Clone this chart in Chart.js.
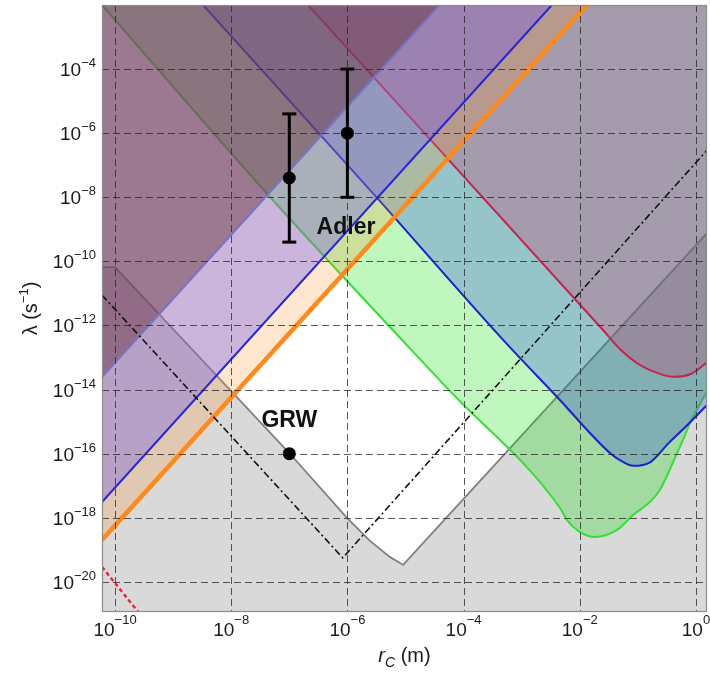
<!DOCTYPE html>
<html>
<head>
<meta charset="utf-8">
<script src="https://cdn.jsdelivr.net/npm/chart.js@4.4.1/dist/chart.umd.min.js"></script>
<style>
  html, body { margin: 0; padding: 0; background: #fff; }
</style>
</head>
<body>
<canvas id="chart" width="710" height="675"></canvas>
<script>
// axis range (r_C in m, lambda in 1/s)
const xRange = [5.97e-11, 1.55];
const yRange = [1.15e-21, 1.0e-2];
const xTicks = [1e-10, 1e-8, 1e-6, 1e-4, 1e-2, 1];
const xTickExp = ['−10', '−8', '−6', '−4', '−2', '0'];
const yTicks = [1e-4, 1e-6, 1e-8, 1e-10, 1e-12, 1e-14, 1e-16, 1e-18, 1e-20];
const yTickExp = ['−4', '−6', '−8', '−10', '−12', '−14', '−16', '−18', '−20'];

// upper bounds (excluded above the curve)
const greenBound = [
  { x: 5.97e-11, y: 1.0e-2 }, { x: 4.66e-8, y: 1.02e-8 }, { x: 5.37e-5, y: 1.05e-14 },
  { x: 4.57e-3, y: 2.04e-18 }, { x: 6.03e-3, y: 8.51e-19 }, { x: 1.0e-2, y: 3.63e-19 },
  { x: 1.82e-2, y: 2.51e-19 }, { x: 4.37e-2, y: 4.17e-19 }, { x: 8.32e-2, y: 1.23e-18 },
  { x: 0.162, y: 3.16e-18 }, { x: 0.240, y: 7.41e-18 }, { x: 0.398, y: 5.13e-17 },
  { x: 0.597, y: 2.69e-16 }, { x: 0.794, y: 9.12e-16 }, { x: 1.55, y: 8.9e-15 }
];
const blueBound = [
  { x: 3.27e-9, y: 1.0e-2 }, { x: 3.24e-6, y: 9.55e-9 }, { x: 4.79e-4, y: 3.55e-13 },
  { x: 4.07e-3, y: 5.89e-15 }, { x: 3.31e-2, y: 1.05e-16 }, { x: 4.9e-2, y: 6.31e-17 },
  { x: 8.32e-2, y: 4.17e-17 }, { x: 0.162, y: 5.37e-17 }, { x: 0.339, y: 2.14e-16 },
  { x: 0.631, y: 6.31e-16 }, { x: 1.55, y: 3.31e-15 }
];
const redBound = [
  { x: 2.1e-7, y: 1.0e-2 }, { x: 2.51e-2, y: 7.24e-13 }, { x: 5.01e-2, y: 1.78e-13 },
  { x: 9.55e-2, y: 6.76e-14 }, { x: 0.162, y: 4.07e-14 }, { x: 0.398, y: 2.51e-14 },
  { x: 0.794, y: 3.02e-14 }, { x: 1.32, y: 5.62e-14 }, { x: 1.55, y: 7.24e-14 }
];
// rising bounds (excluded above-left)
const orangeBound = [{ x: 5.97e-11, y: 2.04e-19 }, { x: 1.33e-2, y: 1.0e-2 }];
const purpleBound = [{ x: 5.97e-11, y: 3.09e-18 }, { x: 3.31e-3, y: 1.0e-2 }];
const maroonBound = [{ x: 5.97e-11, y: 2.45e-14 }, { x: 3.89e-5, y: 1.0e-2 }];
// theoretical lower bound (excluded below)
const grayBound = [
  { x: 5.97e-11, y: 6.61e-11 }, { x: 1.0e-10, y: 6.61e-11 }, { x: 1.0e-7, y: 1.05e-16 },
  { x: 9.84e-7, y: 1.0e-18 }, { x: 2.45e-6, y: 1.91e-19 }, { x: 5.37e-6, y: 6.03e-20 },
  { x: 9.12e-6, y: 3.39e-20 }, { x: 1.55, y: 7.59e-10 }
];
const dashDot = [{ x: 5.97e-11, y: 8.91e-12 }, { x: 8.32e-7, y: 5.62e-20 }, { x: 1.55, y: 2.95e-7 }];
const redDashed = [{ x: 5.97e-11, y: 2.95e-20 }, { x: 2.51e-10, y: 1.15e-21 }];

// proposed values
const grwPoint = [{ x: 1e-7, y: 1e-16 }];
const adlerPoints = [{ x: 1e-7, y: 4e-8 }, { x: 1e-6, y: 1e-6 }];
const adlerLow = [4e-10, 1e-8];
const adlerHigh = [4e-6, 1e-4];
const textLabels = [
  { text: 'GRW', x: 1e-7, y: 1.05e-15 },
  { text: 'Adler', x: 9.46e-7, y: 1.1e-9 }
];

const FONT = '"Liberation Sans", Arial, sans-serif';

function region(data, line, width, fillColor, fill, order, monotone) {
  return {
    data: data,
    showLine: true,
    borderColor: line,
    borderWidth: width,
    backgroundColor: fillColor,
    fill: fill,
    order: order,
    pointRadius: 0,
    tension: 0,
    cubicInterpolationMode: monotone ? 'monotone' : 'default',
    clip: 0
  };
}

const datasets = [
  region(grayBound, '#808080', 1.8, 'rgba(120,120,120,0.28)', 'start', 16),
  region(greenBound, '#35e035', 2, 'rgba(0,225,0,0.25)', 'end', 15, true),
  region(blueBound, '#1f1fcf', 2, 'rgba(50,80,220,0.3)', 'end', 14, true),
  region(redBound, '#c8224f', 2, 'rgba(200,60,110,0.3)', 'end', 13, true),
  region(orangeBound, '#ff8a1c', 4.5, 'rgba(255,140,30,0.22)', 'end', 12),
  region(purpleBound, '#2626d6', 2, 'rgba(105,90,240,0.35)', 'end', 11),
  region(maroonBound, '#7676c4', 2.2, 'rgba(100,45,55,0.45)', 'end', 10)
];

const dd = region(dashDot, '#111', 1.6, 'transparent', false, 5);
dd.borderDash = [7, 3, 2, 3];
datasets.push(dd);
const rd = region(redDashed, '#e8203a', 2.4, 'transparent', false, 4);
rd.borderDash = [4, 3];
datasets.push(rd);

// error bars for Adler
adlerPoints.forEach((p, i) => {
  datasets.push({
    data: [{ x: p.x, y: adlerLow[i] }, { x: p.x, y: adlerHigh[i] }],
    showLine: true,
    borderColor: '#000',
    borderWidth: 3,
    pointStyle: 'line',
    pointRadius: 7,
    pointBorderWidth: 3,
    pointBorderColor: '#000',
    fill: false,
    order: 2,
    clip: 0
  });
});

datasets.push({
  data: adlerPoints.concat(grwPoint),
  showLine: false,
  pointRadius: 6.5,
  pointBackgroundColor: '#000',
  pointBorderWidth: 0,
  order: 1
});

const GRID_BEFORE = datasets.indexOf(dd);

function drawGrid(chart) {
  const { ctx, chartArea: a, scales: { x, y } } = chart;
  ctx.save();
  ctx.strokeStyle = 'rgba(35,35,35,0.75)';
  ctx.lineWidth = 1;
  ctx.setLineDash([7, 4]);
  xTicks.forEach(v => {
    const px = Math.round(x.getPixelForValue(v)) + 0.5;
    ctx.beginPath(); ctx.moveTo(px, a.top); ctx.lineTo(px, a.bottom); ctx.stroke();
  });
  yTicks.forEach(v => {
    const py = Math.round(y.getPixelForValue(v)) + 0.5;
    ctx.beginPath(); ctx.moveTo(a.left, py); ctx.lineTo(a.right, py); ctx.stroke();
  });
  ctx.restore();
}

const overlay = {
  id: 'overlay',
  beforeDatasetDraw(chart, args) {
    if (args.index === GRID_BEFORE) drawGrid(chart);
  },
  afterDraw(chart) {
    const { ctx, chartArea: a, scales: { x, y } } = chart;
    ctx.save();
    // frame
    ctx.strokeStyle = '#8c8c8c';
    ctx.lineWidth = 1.2;
    ctx.strokeRect(a.left + 0.5, a.top + 0.5, a.width - 1, a.height - 1);

    ctx.fillStyle = '#1a1a1a';
    ctx.textBaseline = 'alphabetic';
    // y tick labels
    yTicks.forEach((v, i) => {
      const py = y.getPixelForValue(v);
      ctx.font = '13px ' + FONT;
      const ew = ctx.measureText(yTickExp[i]).width;
      ctx.textAlign = 'right';
      ctx.fillText(yTickExp[i], 96, py - 2);
      ctx.font = '19px ' + FONT;
      ctx.fillText('10', 96 - ew, py + 7);
    });
    // x tick labels
    xTicks.forEach((v, i) => {
      const px = x.getPixelForValue(v);
      ctx.font = '19px ' + FONT;
      const bw = ctx.measureText('10').width;
      ctx.font = '13px ' + FONT;
      const ew = ctx.measureText(xTickExp[i]).width;
      const start = px - (bw + ew) / 2;
      ctx.textAlign = 'left';
      ctx.font = '19px ' + FONT;
      ctx.fillText('10', start, 636);
      ctx.font = '13px ' + FONT;
      ctx.fillText(xTickExp[i], start + bw, 624);
    });

    // x title: r_C (m)
    ctx.textAlign = 'left';
    ctx.font = 'italic 20px ' + FONT;
    const rw = ctx.measureText('r').width;
    ctx.font = 'italic 14px ' + FONT;
    const cw = ctx.measureText('C').width;
    ctx.font = '20px ' + FONT;
    const mw = ctx.measureText(' (m)').width;
    let sx = (a.left + a.right) / 2 - (rw + cw + mw) / 2;
    ctx.font = 'italic 20px ' + FONT;
    ctx.fillText('r', sx, 662);
    ctx.font = 'italic 14px ' + FONT;
    ctx.fillText('C', sx + rw, 667);
    ctx.font = '20px ' + FONT;
    ctx.fillText(' (m)', sx + rw + cw, 662);

    // y title: lambda (s^-1)
    ctx.save();
    ctx.translate(37, (a.top + a.bottom) / 2);
    ctx.rotate(-Math.PI / 2);
    ctx.font = '20px ' + FONT;
    const w1 = ctx.measureText('λ (s').width;
    const w3 = ctx.measureText(')').width;
    ctx.font = '13px ' + FONT;
    const w2 = ctx.measureText('−1').width;
    let tx = -(w1 + w2 + w3) / 2;
    ctx.font = '20px ' + FONT;
    ctx.fillText('λ (s', tx, 0);
    ctx.font = '13px ' + FONT;
    ctx.fillText('−1', tx + w1, -9);
    ctx.font = '20px ' + FONT;
    ctx.fillText(')', tx + w1 + w2, 0);
    ctx.restore();

    // point labels
    ctx.font = 'bold 23px ' + FONT;
    ctx.fillStyle = '#111';
    ctx.textAlign = 'center';
    ctx.textBaseline = 'middle';
    textLabels.forEach(l => {
      ctx.fillText(l.text, x.getPixelForValue(l.x), y.getPixelForValue(l.y));
    });
    ctx.restore();
  }
};

new Chart(document.getElementById('chart'), {
  type: 'scatter',
  data: { datasets: datasets },
  options: {
    responsive: false,
    animation: false,
    events: [],
    layout: { autoPadding: false, padding: { top: 5, right: 3, left: 0, bottom: 0 } },
    plugins: { legend: { display: false }, tooltip: { enabled: false } },
    scales: {
      x: {
        type: 'logarithmic',
        min: xRange[0], max: xRange[1],
        ticks: { display: false },
        grid: { display: false },
        border: { display: false },
        afterFit: s => { s.height = 63; }
      },
      y: {
        type: 'logarithmic',
        min: yRange[0], max: yRange[1],
        ticks: { display: false },
        grid: { display: false },
        border: { display: false },
        afterFit: s => { s.width = 102; }
      }
    }
  },
  plugins: [overlay]
});
</script>
</body>
</html>
